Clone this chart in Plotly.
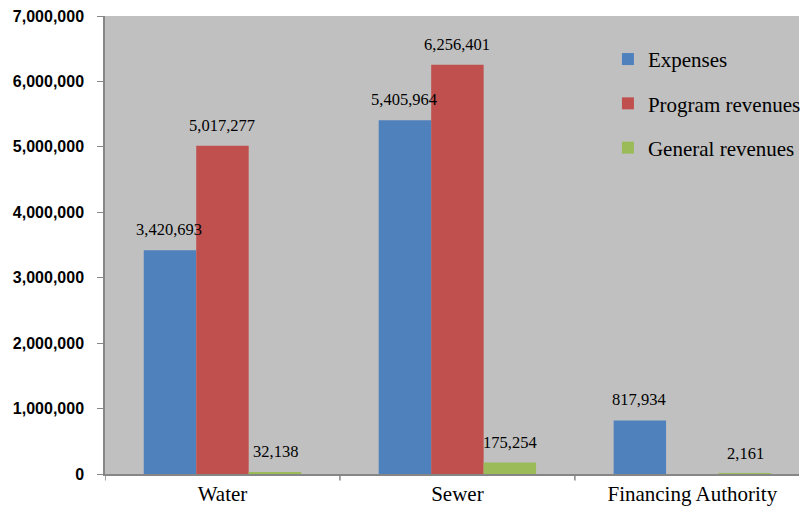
import plotly.graph_objects as go

categories = ["Water", "Sewer", "Financing Authority"]
expenses = [3420693, 5405964, 817934]
program_revenues = [5017277, 6256401, None]
general_revenues = [32138, 175254, 2161]

series_names = ["Expenses", "Program revenues", "General revenues"]
series_values = [expenses, program_revenues, general_revenues]
series_colors = ["#4F81BD", "#C0504D", "#9BBB59"]

y_ticks = [0, 1000000, 2000000, 3000000, 4000000, 5000000, 6000000, 7000000]

serif = "Liberation Serif, Times New Roman, serif"
W, H = 806, 511
M = dict(l=105, r=0, t=16, b=37)
BARGAP = 0.33
X_RANGE = [-0.5, 2.454]  # the last category runs slightly past the right edge

fig = go.Figure()
for i, (name, vals, color) in enumerate(zip(series_names, series_values, series_colors)):
    fig.add_trace(go.Bar(
        name=name,
        x=categories,
        y=vals,
        marker=dict(color=color, line=dict(width=0)),
        legendgroup=f"g{i}",
    ))

# value labels above each bar, offset sideways to its slot in the group
cat_px = (W - M["l"] - M["r"]) / (X_RANGE[1] - X_RANGE[0])
bar_px = cat_px * (1 - BARGAP) / len(series_names)
for i, vals in enumerate(series_values):
    for cat, v in zip(categories, vals):
        if v is None:
            continue
        fig.add_annotation(
            x=cat, y=v, xref="x", yref="y",
            text=f"{v:,}", showarrow=False,
            xanchor="center", yanchor="bottom",
            xshift=(i - 1) * bar_px, yshift=9,
            font=dict(family=serif, size=16.5, color="#000000"),
        )

fig.update_layout(
    width=W,
    height=H,
    margin=M,
    paper_bgcolor="#FFFFFF",
    plot_bgcolor="#C0C0C0",
    barmode="group",
    bargap=BARGAP,
    bargroupgap=0,
    showlegend=True,
    legend=dict(
        x=0.7247, y=0.95, xanchor="left", yanchor="top",
        bgcolor="rgba(0,0,0,0)",
        font=dict(family=serif, size=21, color="#000000"),
        tracegroupgap=14,
        itemwidth=30,
    ),
    xaxis=dict(
        type="category",
        categoryorder="array",
        categoryarray=categories,
        range=X_RANGE,
        autorange=False,
        showline=True, linecolor="#868686", linewidth=1.5,
        ticks="", showgrid=False,
        tickfont=dict(family=serif, size=21, color="#000000"),
    ),
    yaxis=dict(
        range=[0, 7000000],
        autorange=False,
        tickvals=y_ticks,
        ticktext=[f"{v:,}" for v in y_ticks],
        showline=True, linecolor="#868686", linewidth=1.5,
        ticks="outside", ticklen=6, tickcolor="#868686",
        ticklabelstandoff=10,
        showgrid=False, zeroline=False,
        tickfont=dict(family="Liberation Sans, Arial, sans-serif", size=16,
                      weight="bold", color="#000000"),
    ),
)

# category boundary ticks on the x axis
for xb in [-0.5, 0.5, 1.5]:
    fig.add_shape(type="line", xref="x", yref="paper", x0=xb, x1=xb, y0=0, y1=-0.014,
                  line=dict(color="#868686", width=1.5))

fig.write_html("out.html")
